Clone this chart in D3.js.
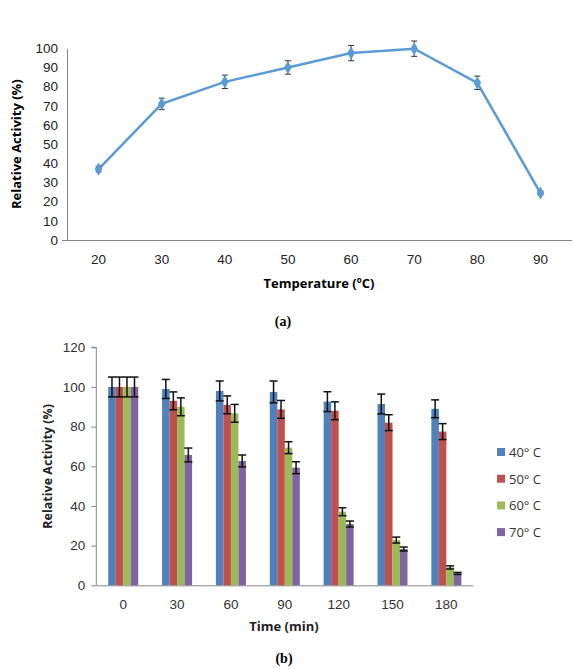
<!DOCTYPE html>
<html>
<head>
<meta charset="utf-8">
<script src="https://cdn.jsdelivr.net/npm/d3@7"></script>
<style>
  body { margin: 0; background: #fff; }
  svg { display: block; font-family: "Open Sans", "Liberation Sans", sans-serif; }
</style>
</head>
<body>
<div id="chart"></div>
<script>
// (a) temperature profile
var temps = ["20", "30", "40", "50", "60", "70", "80", "90"];
var tempActivity = [37, 71, 82.5, 90, 97.5, 99.8, 82, 24.5];
var tempError = [1.5, 3, 3.5, 3.5, 4, 4, 3.5, 1];
var tempTicks = [0, 10, 20, 30, 40, 50, 60, 70, 80, 90, 100];

// (b) thermal stability
var times = ["0", "30", "60", "90", "120", "150", "180"];
var seriesNames = ["40° C", "50° C", "60° C", "70° C"];
var act40 = [100, 99, 98, 97.5, 92.6, 91.4, 89];
var act50 = [100, 93, 91, 88.7, 88, 82, 77.5];
var act60 = [100, 90, 86.7, 69.4, 37.1, 22.8, 9];
var act70 = [100, 65.7, 62.7, 59.3, 30.9, 18.3, 6];
var err40 = [5, 4.8, 5, 5.5, 5, 5, 4.5];
var err50 = [5, 4.5, 4.5, 4.5, 4.5, 4, 4];
var err60 = [5, 4.5, 4.5, 3, 2, 1.5, 0.8];
var err70 = [5, 3.5, 3, 3, 1.5, 1, 0.5];
var stabTicks = [0, 20, 40, 60, 80, 100, 120];

var width = 573, height = 669;
var svg = d3.select("#chart").append("svg")
    .attr("width", width)
    .attr("height", height);

/* ---------- chart (a) ---------- */
var a = {left: 67, right: 572, top: 48.3, bottom: 240};
var lineColor = "#5B9BD5";
var xA = d3.scaleBand().domain(temps).range([a.left, a.right]);
var yA = d3.scaleLinear().domain([0, 100]).range([a.bottom, a.top]);
var gA = svg.append("g");

gA.append("g")
    .attr("transform", "translate(" + a.left + ",0)")
    .call(d3.axisLeft(yA).tickValues(tempTicks).tickSize(0).tickPadding(9))
    .call(g => g.select(".domain").attr("stroke", "#868686"))
    .call(g => g.selectAll("text").attr("font-size", 13.5).attr("fill", "#222"));
gA.append("g")
    .attr("transform", "translate(0," + a.bottom + ")")
    .call(d3.axisBottom(xA).tickSize(0).tickPadding(14))
    .call(g => g.select(".domain").attr("stroke", "#868686").attr("d", "M" + (a.left - 5) + ",0.5H" + a.right))
    .call(g => g.selectAll("text").attr("font-size", 13.5).attr("fill", "#222"));

var tempData = temps.map((t, i) => ({t: t, v: tempActivity[i], e: tempError[i]}));
var line = d3.line()
    .x(d => xA(d.t) + xA.bandwidth() / 2)
    .y(d => yA(d.v));
gA.append("path")
    .attr("d", line(tempData))
    .attr("fill", "none")
    .attr("stroke", lineColor)
    .attr("stroke-width", 2.5);

var errA = gA.append("g").attr("stroke", "#333").attr("stroke-width", 1);
tempData.forEach(function(d) {
    var cx = xA(d.t) + xA.bandwidth() / 2;
    errA.append("line").attr("x1", cx).attr("x2", cx).attr("y1", yA(d.v + d.e)).attr("y2", yA(d.v - d.e));
    errA.append("line").attr("x1", cx - 3).attr("x2", cx + 3).attr("y1", yA(d.v + d.e)).attr("y2", yA(d.v + d.e));
    errA.append("line").attr("x1", cx - 3).attr("x2", cx + 3).attr("y1", yA(d.v - d.e)).attr("y2", yA(d.v - d.e));
});
gA.selectAll(".marker").data(tempData).enter().append("path")
    .attr("class", "marker")
    .attr("transform", d => "translate(" + (xA(d.t) + xA.bandwidth() / 2) + "," + yA(d.v) + ")")
    .attr("d", d3.symbol(d3.symbolDiamond, 50))
    .attr("fill", lineColor);

gA.append("text")
    .attr("transform", "translate(21," + ((a.top + a.bottom) / 2) + ") rotate(-90)")
    .attr("text-anchor", "middle")
    .attr("font-size", 13)
    .attr("font-weight", "bold")
    .text("Relative Activity (%)");
var tA = gA.append("text")
    .attr("x", 319).attr("y", 288)
    .attr("text-anchor", "middle")
    .attr("font-size", 13)
    .attr("font-weight", "bold");
tA.append("tspan").text("Temperature (");
tA.append("tspan").attr("font-size", 8).attr("dy", -5).text("o");
tA.append("tspan").attr("dy", 5).text("C)");

svg.append("text")
    .attr("x", 283).attr("y", 326)
    .attr("text-anchor", "middle")
    .attr("font-family", "Liberation Serif, serif")
    .attr("font-weight", "bold")
    .attr("font-size", 14)
    .text("(a)");

/* ---------- chart (b) ---------- */
var b = {left: 96.3, right: 473.3, top: 347.3, bottom: 585.3};
var colors = ["#4F81BD", "#C0504D", "#9BBB59", "#8064A2"];
var values = [act40, act50, act60, act70];
var errors = [err40, err50, err60, err70];
var xB = d3.scaleBand().domain(times).range([b.left, b.right]).paddingInner(0.443).paddingOuter(0.2215);
var xSub = d3.scaleBand().domain(d3.range(4)).range([0, xB.bandwidth()]);
var yB = d3.scaleLinear().domain([0, 120]).range([b.bottom, b.top]);
var gB = svg.append("g");

gB.append("g")
    .attr("transform", "translate(" + b.left + ",0)")
    .call(d3.axisLeft(yB).tickValues(stabTicks).tickSize(5).tickPadding(6))
    .call(g => g.selectAll("line, .domain").attr("stroke", "#868686"))
    .call(g => g.select(".domain").attr("d", "M-5," + b.top + "H0V" + b.bottom))
    .call(g => g.selectAll("text").attr("font-size", 13.5).attr("fill", "#333"));
gB.append("g")
    .attr("transform", "translate(0," + b.bottom + ")")
    .call(d3.axisBottom(xB).tickSize(0).tickPadding(14))
    .call(g => g.select(".domain").attr("stroke", "#868686").attr("d", "M" + b.left + ",0.5H" + b.right))
    .call(g => g.selectAll("text").attr("font-size", 13.5).attr("fill", "#333"));

seriesNames.forEach(function(name, s) {
    var sg = gB.append("g");
    var data = times.map((t, i) => ({t: t, v: values[s][i], e: errors[s][i]}));
    sg.selectAll("rect").data(data).enter().append("rect")
        .attr("x", d => xB(d.t) + xSub(s))
        .attr("y", d => yB(d.v))
        .attr("width", xSub.bandwidth())
        .attr("height", d => yB(0) - yB(d.v))
        .attr("fill", colors[s]);
    var eg = sg.append("g").attr("stroke", "#111").attr("stroke-width", 1.5);
    data.forEach(function(d) {
        var cx = xB(d.t) + xSub(s) + xSub.bandwidth() / 2;
        eg.append("line").attr("x1", cx).attr("x2", cx).attr("y1", yB(d.v + d.e)).attr("y2", yB(d.v - d.e));
        eg.append("line").attr("x1", cx - 4).attr("x2", cx + 4).attr("y1", yB(d.v + d.e)).attr("y2", yB(d.v + d.e));
        eg.append("line").attr("x1", cx - 4).attr("x2", cx + 4).attr("y1", yB(d.v - d.e)).attr("y2", yB(d.v - d.e));
    });
});

var legend = gB.append("g").attr("transform", "translate(497,452)");
seriesNames.forEach(function(name, s) {
    var row = legend.append("g").attr("transform", "translate(0," + (s * 26.7) + ")");
    row.append("rect").attr("x", 0).attr("y", -4).attr("width", 8).attr("height", 8).attr("fill", colors[s]);
    row.append("text").attr("x", 12).attr("y", 5).attr("font-size", 13).attr("fill", "#333").text(name);
});

gB.append("text")
    .attr("transform", "translate(52," + ((b.top + b.bottom) / 2) + ") rotate(-90)")
    .attr("text-anchor", "middle")
    .attr("font-size", 12.5)
    .attr("font-weight", "bold")
    .attr("fill", "#222")
    .text("Relative Activity (%)");
gB.append("text")
    .attr("x", 284).attr("y", 631)
    .attr("text-anchor", "middle")
    .attr("font-size", 13)
    .attr("font-weight", "bold")
    .attr("fill", "#222")
    .text("Time (min)");

svg.append("text")
    .attr("x", 284).attr("y", 663)
    .attr("text-anchor", "middle")
    .attr("font-family", "Liberation Serif, serif")
    .attr("font-weight", "bold")
    .attr("font-size", 14)
    .text("(b)");
</script>
</body>
</html>
